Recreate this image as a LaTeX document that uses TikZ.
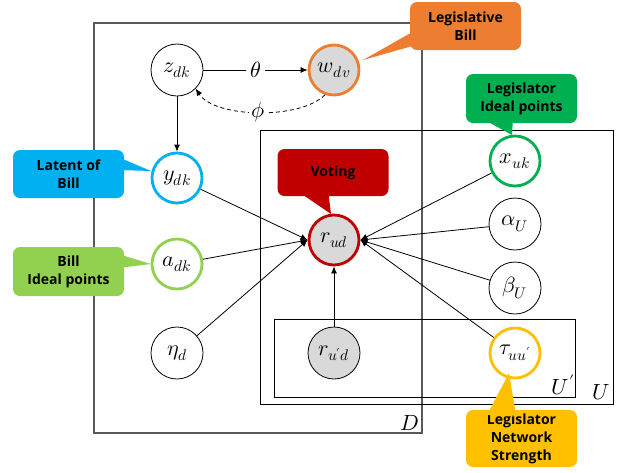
\documentclass[tikz,border=0pt]{standalone}
\usepackage{fontspec}
\usepackage{unicode-math}
\setmathfont{Latin Modern Math}
\newfontfamily\callfont{Open Sans}
\usetikzlibrary{arrows.meta}
\definecolor{cOrange}{HTML}{ED7D31}
\definecolor{cGreen}{HTML}{00B050}
\definecolor{cBlue}{HTML}{00B0F0}
\definecolor{cLime}{HTML}{92D050}
\definecolor{cRed}{HTML}{C00000}
\definecolor{cYellow}{HTML}{FFC000}
\definecolor{obsgray}{HTML}{D9D9D9}
\tikzset{
  mfont/.style={font=\fontsize{22}{24}\selectfont},
  var/.style={circle, draw=black, line width=0.8pt, minimum size=52pt, inner sep=0pt,
    fill=white, mfont},
  obs/.style={var, fill=obsgray},
  hl/.style={draw=#1, line width=2.8pt, minimum size=50pt},
  plate/.style={draw=black, line width=0.8pt},
  platelabel/.style={mfont, inner sep=0pt},
  edge/.style={line width=0.8pt, -{Latex[length=7pt,width=6pt]}},
  callout/.style={fill=#1, rounded corners=7pt, inner sep=0pt, minimum width=111pt,
    align=center, font=\callfont\bfseries\fontsize{14}{18}\selectfont},
}
\begin{document}
\begin{tikzpicture}[x=1pt,y=-1pt]
\useasboundingbox (0,0) rectangle (628,472);
% plates
\draw[plate, draw=black!65, line width=1.2pt] (94,23) rectangle (422,433);
\draw[plate] (260,130) rectangle (613,404);
\draw[plate] (274,319) rectangle (575,397);
\node[platelabel] (lD) at (410,423) {$D$};
\node[platelabel] (lU) at (601,392) {$U$};
\node[platelabel] (lUp) at (563,385) {$U'$};
% nodes
\node[var] (z) at (177,70) {$z_{dk}$};
\node[obs, hl=cOrange] (w) at (334,70) {$w_{dv}$};
\node[var, hl=cBlue] (y) at (177,178) {$y_{dk}$};
\node[var, hl=cLime] (a) at (177,264) {$a_{dk}$};
\node[var] (eta) at (177,353) {$\eta_{d}$};
\node[obs, hl=cRed] (r) at (334,240) {$r_{ud}$};
\node[obs] (rp) at (334,353) {$r_{u'd}$};
\node[var, hl=cGreen] (x) at (515,161) {$x_{uk}$};
\node[var] (al) at (515,224) {$\alpha_{U}$};
\node[var] (be) at (515,288) {$\beta_{U}$};
\node[var, hl=cYellow] (tau) at (515,353) {$\tau_{uu'}$};
% edges
\draw[edge] (z) -- node[fill=white, inner sep=4pt, mfont] (th) {$\theta$} (w);
\draw[edge, dash pattern=on 4pt off 3pt] (w.250) .. controls (300,120) and (215,118) ..
   node[fill=white, inner sep=3pt, mfont] (ph) {$\phi$} (z.-45);
\draw[edge] (z) -- (y);
\draw[edge] (y) -- (r.west);
\draw[edge] (a) -- (r.west);
\draw[edge] (eta) -- (r.west);
\draw[edge] (x) -- (r.east);
\draw[edge] (al) -- (r.east);
\draw[edge] (be) -- (r.east);
\draw[edge] (tau) -- (r.east);
\draw[edge] (rp) -- (r);
% callouts
\node[callout=cOrange, minimum height=48pt] (cW) at (465.5,26) {Legislative\\Bill};
\fill[cOrange] (416,30) -- (363,60) -- (416,45) -- cycle;
\node[callout=cGreen, minimum height=49pt] (cX) at (521.5,98.5) {Legislator\\Ideal points};
\fill[cGreen] (481,118) -- (512,135) -- (513,118) -- cycle;
\node[callout=cBlue, minimum height=48pt] (cY) at (68.5,174) {Latent of\\Bill};
\fill[cBlue] (118,157) -- (151,171) -- (118,170) -- cycle;
\node[callout=cLime, minimum height=49pt] (cA) at (68.5,271.5) {Bill\\Ideal points};
\fill[cLime] (118,254) -- (151,264) -- (118,268) -- cycle;
\node[callout=cRed, minimum height=47pt] (cR) at (333,172.5) {Voting};
\fill[cRed] (296,190) -- (331,214) -- (328,190) -- cycle;
\node[callout=cYellow, minimum height=57pt] (cT) at (521.5,438.5) {Legislator\\Network\\Strength};
\fill[cYellow] (487,415) -- (509,373) -- (516,415) -- cycle;
\end{tikzpicture}
\end{document}
